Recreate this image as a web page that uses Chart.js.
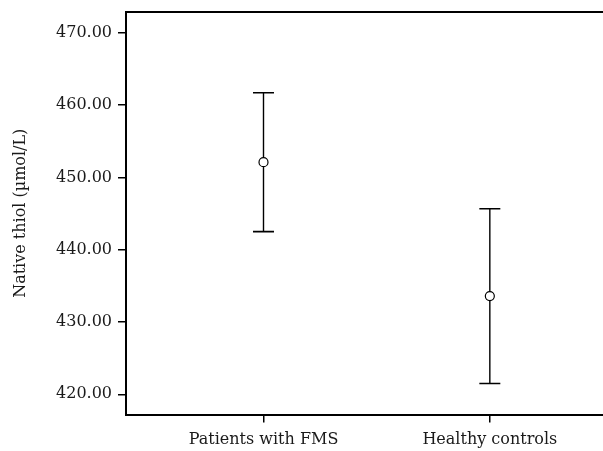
<!DOCTYPE html>
<html>
<head>
<meta charset="utf-8">
<script src="https://cdn.jsdelivr.net/npm/chart.js@4/dist/chart.umd.min.js"></script>
<style>
html,body{margin:0;padding:0;background:#fff;}
#wrap{width:603px;height:451px;}
</style>
</head>
<body>
<div id="wrap"><canvas id="c" width="603" height="451"></canvas></div>
<script>
const categories = ["Patients with FMS", "Healthy controls"];
const means = [452.12, 433.59];
const lowers = [442.51, 421.50];
const uppers = [461.72, 445.68];
const yTicks = [420, 430, 440, 450, 460, 470];
const yLabel = "Native thiol (µmol/L)";

const FONT = "'DejaVu Serif', serif";
const TEXT = "#1a1a1a";

const datasets = [];
categories.forEach((c, i) => {
  datasets.push({
    type: 'line',
    data: [{x: i, y: lowers[i]}, {x: i, y: uppers[i]}],
    borderColor: '#000',
    borderWidth: 1.4,
    showLine: true,
    pointStyle: 'line',
    pointRadius: 10.5,
    pointBorderWidth: 1.6,
    pointBorderColor: '#000',
    pointHoverRadius: 10.5,
    order: 2
  });
});
datasets.push({
  type: 'scatter',
  data: categories.map((c, i) => ({x: i, y: means[i]})),
  pointStyle: 'circle',
  pointRadius: 4.5,
  pointBorderWidth: 1.2,
  pointBorderColor: '#000',
  pointBackgroundColor: '#fff',
  order: 1
});

function noPad(s) { s.paddingLeft = 0; s.paddingRight = 0; s.paddingTop = 0; s.paddingBottom = 0; }

new Chart(document.getElementById('c'), {
  type: 'scatter',
  data: { datasets },
  options: {
    responsive: false,
    animation: false,
    events: [],
    layout: { autoPadding: false, padding: { top: 12, right: 0, left: 0, bottom: 0 } },
    plugins: { legend: { display: false }, tooltip: { enabled: false } },
    scales: {
      x: {
        type: 'linear',
        position: 'bottom',
        min: -0.6075,
        max: 1.5,
        afterBuildTicks: s => { s.ticks = [{value: 0}, {value: 1}]; },
        afterFit: s => { s.height = 36.5; noPad(s); },
        ticks: {
          callback: v => categories[v] ?? '',
          color: TEXT,
          font: { family: FONT, size: 16 },
          padding: 8,
          maxRotation: 0,
          autoSkip: false
        },
        grid: { drawOnChartArea: false, drawTicks: true, tickLength: 8, color: '#000', lineWidth: 1.5 },
        border: { display: true, color: '#000', width: 2 }
      },
      x2: {
        type: 'linear',
        position: 'top',
        min: -0.6075,
        max: 1.5,
        ticks: { display: false },
        grid: { display: false, drawTicks: false },
        border: { display: true, color: '#000', width: 2 },
        afterFit: s => { s.height = 0; noPad(s); }
      },
      y: {
        type: 'linear',
        min: 417.2,
        max: 472.9,
        afterBuildTicks: s => { s.ticks = yTicks.map(v => ({value: v})); },
        afterFit: s => { s.width = 126; noPad(s); },
        ticks: {
          callback: v => Number(v).toFixed(2),
          color: TEXT,
          font: { family: FONT, size: 16 },
          padding: 6
        },
        grid: { drawOnChartArea: false, drawTicks: true, tickLength: 8, color: '#000', lineWidth: 1.5 },
        border: { display: true, color: '#000', width: 2 },
        title: {
          display: true,
          text: yLabel,
          color: TEXT,
          font: { family: FONT, size: 16 },
          padding: { top: 11, bottom: 4 }
        }
      }
    }
  }
});
</script>
</body>
</html>
